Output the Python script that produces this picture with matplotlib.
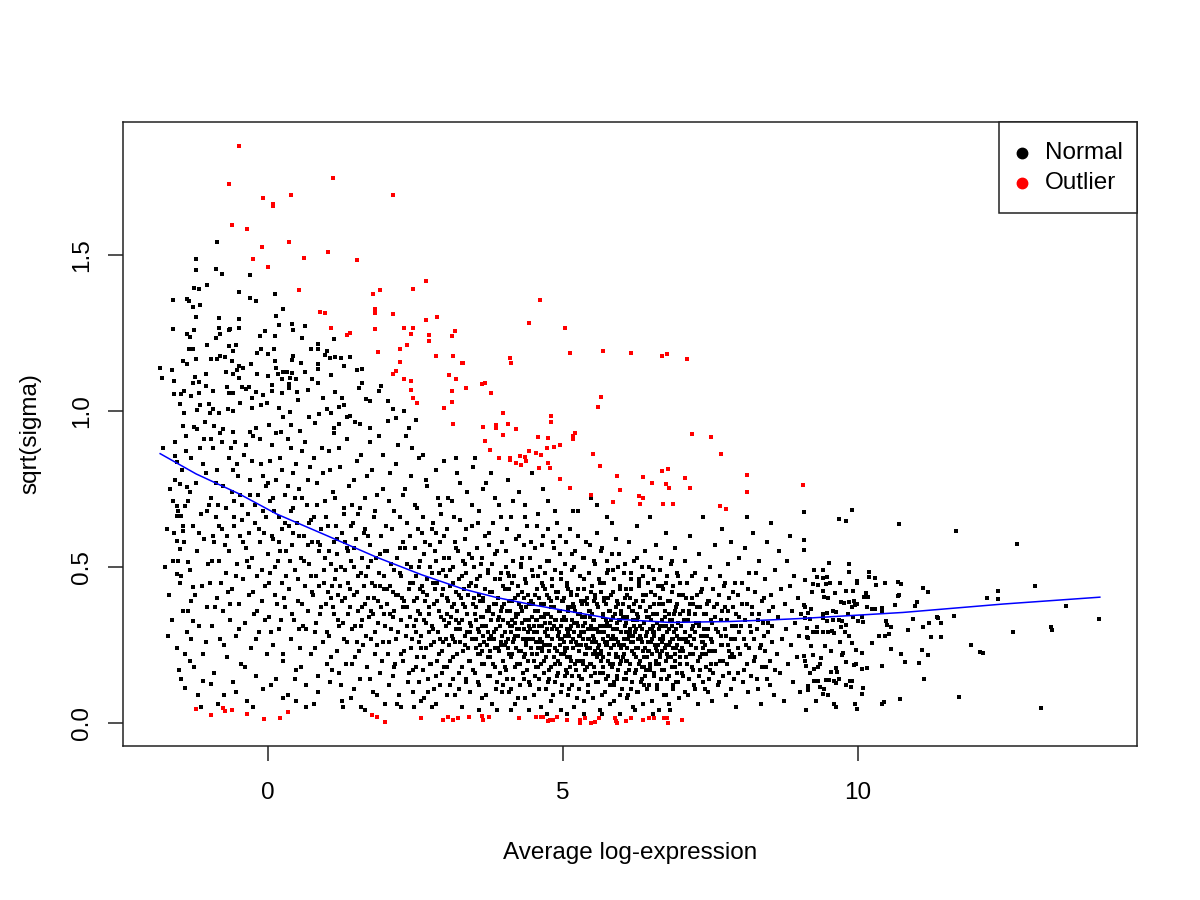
import matplotlib
matplotlib.use("Agg")
import matplotlib.pyplot as plt
from matplotlib.lines import Line2D
from matplotlib.patches import Rectangle

plt.rcParams['font.family'] = ['Liberation Sans', 'DejaVu Sans']

# sparse points, upper left
normal_top_left = [
    (-0.86, 1.542), (-1.215, 1.488), (-1.23, 1.451), (-0.88, 1.454), (-0.79, 1.440), (-0.31, 1.437),
    (-1.25, 1.394), (-1.17, 1.390), (-1.03, 1.402), (-0.49, 1.380), (0.12, 1.376), (-0.30, 1.363),
    (-0.20, 1.351), (-1.62, 1.357), (-1.38, 1.358), (-1.34, 1.353), (-1.28, 1.332), (-1.16, 1.338),
    (-1.22, 1.300), (-0.83, 1.297), (-0.49, 1.294), (0.14, 1.303), (0.26, 1.326), (0.18, 1.274),
    (0.41, 1.279), (0.43, 1.258), (0.63, 1.271), (-1.62, 1.262), (-1.25, 1.259), (-1.37, 1.248),
    (-1.33, 1.236), (-0.83, 1.266), (-0.81, 1.245), (-0.88, 1.234), (-0.65, 1.263), (-0.67, 1.258),
    (-0.50, 1.265), (-0.06, 1.255), (-0.13, 1.239), (0.12, 1.239), (0.58, 1.233), (1.12, 1.230),
    (-1.03, 1.212), (-0.67, 1.207), (-0.54, 1.211), (-0.59, 1.193), (-1.34, 1.198), (-1.27, 1.197),
    (-0.12, 1.199), (-0.18, 1.187), (-0.01, 1.182), (0.10, 1.198), (0.73, 1.199), (0.84, 1.199),
    (0.84, 1.214), (0.99, 1.191), (0.96, 1.178), (1.05, 1.169), (1.13, 1.172), (1.23, 1.169),
    (1.39, 1.172), (0.43, 1.175), (0.41, 1.163), (-0.96, 1.166), (-0.81, 1.175), (-0.73, 1.173),
    (-0.86, 1.167), (-1.45, 1.161), (-1.37, 1.149), (-1.215, 1.165), (-0.62, 1.160), (-0.50, 1.143),
    (-0.42, 1.139), (-0.53, 1.130), (-0.29, 1.149), (0.12, 1.159), (0.13, 1.139), (0.25, 1.125),
    (0.32, 1.125), (0.40, 1.122), (0.56, 1.154), (0.63, 1.124), (0.84, 1.149), (0.85, 1.134),
    (-1.83, 1.138), (-1.80, 1.104), (-1.63, 1.130), (-1.59, 1.097), (-1.24, 1.108), (-1.18, 1.093),
    (-1.27, 1.091), (-1.05, 1.117), (-0.71, 1.126), (-0.59, 1.119), (-0.50, 1.107), (-0.18, 1.119),
    (-0.01, 1.112), (0.16, 1.117), (0.23, 1.103), (0.37, 1.105), (0.48, 1.101), (0.36, 1.085),
    (0.75, 1.103), (0.84, 1.091), (1.07, 1.114), (1.29, 1.145), (1.50, 1.130), (1.59, 1.135),
    (1.60, 1.089), (1.54, 1.074), (1.66, 1.037), (1.72, 1.033), (1.88, 1.063), (1.92, 1.081),
    (2.03, 1.033), (-1.59, 1.055), (-1.43, 1.065), (-1.42, 0.994), (-1.48, 1.053), (-1.31, 1.048),
    (-1.05, 1.080), (-1.18, 1.057), (-1.00, 1.022), (-0.93, 1.063), (-0.69, 1.077), (-0.67, 1.058),
    (-0.59, 1.058), (-0.45, 1.076), (-0.38, 1.071), (-0.32, 1.077), (-0.27, 1.041), (-0.20, 1.061),
    (-0.09, 1.052), (0.07, 1.082), (0.06, 1.065), (0.24, 1.058), (0.36, 1.074), (0.49, 1.061),
    (0.51, 1.034), (0.68, 1.066), (0.93, 1.041), (1.13, 1.060), (1.26, 1.040), (1.28, 1.020),
    (-1.49, 1.022), (-1.21, 1.004), (-1.16, 1.018), (-0.99, 0.994), (-0.93, 1.005), (-0.83, 0.993),
    (-0.68, 1.005), (-0.59, 0.999), (-0.47, 1.025), (-0.28, 1.010), (-0.12, 1.020), (-0.02, 1.026),
    (0.19, 1.010), (0.25, 0.981), (0.37, 0.997), (0.69, 0.981), (0.87, 0.991), (0.99, 1.005),
    (1.06, 0.994), (1.21, 1.014), (1.33, 0.981), (1.39, 0.984), (1.47, 0.964), (1.56, 0.959),
    (1.73, 0.946), (2.04, 0.969), (2.11, 1.005), (2.16, 0.978), (2.30, 0.999), (2.39, 0.946),
    (2.51, 0.971), (-1.45, 0.952), (-1.21, 0.943), (-1.07, 0.964), (-0.92, 0.952), (-0.76, 0.943),
    (-0.59, 0.932), (-0.31, 0.932), (-0.20, 0.945), (0.01, 0.954), (0.22, 0.932), (0.39, 0.954),
    (0.54, 0.935), (0.80, 0.962), (1.11, 0.945), (1.20, 0.959),
]

# left edge of the cloud
normal_left_edge = [
    (-1.79, 0.881), (-1.58, 0.857), (-1.55, 0.835), (-1.58, 0.779), (-1.50, 0.766), (-1.38, 0.755),
    (-1.61, 0.712), (-1.55, 0.696), (-1.41, 0.696), (-1.55, 0.664), (-1.47, 0.664), (-1.44, 0.616),
    (-1.55, 0.584), (-1.50, 0.557), (-1.53, 0.520), (-1.36, 0.515), (-1.55, 0.477), (-1.47, 0.472),
    (-1.27, 0.435), (-1.30, 0.392), (-1.36, 0.360), (-1.27, 0.328), (-1.30, 0.269), (-1.41, 0.221),
    (-1.33, 0.200), (-1.51, 0.171), (-1.41, 0.111), (-1.13, 0.050), (-1.10, 0.135), (-0.96, 0.125),
    (-1.72, 0.62), (-1.68, 0.41), (-1.66, 0.75), (-1.63, 0.33), (-1.61, 0.52), (-1.57, 0.90),
    (-1.54, 0.24), (-1.52, 0.68), (-1.49, 0.45), (-1.46, 0.81), (-1.44, 0.36), (-1.42, 0.58),
    (-1.39, 0.92), (-1.37, 0.29), (-1.35, 0.71), (-1.33, 0.49), (-1.30, 0.85), (-1.28, 0.63),
    (-1.26, 0.18), (-1.24, 0.41), (-1.22, 0.77), (-1.20, 0.55), (-1.18, 0.31), (-1.16, 0.88),
    (-1.14, 0.67), (-1.12, 0.44), (-1.10, 0.22), (-1.08, 0.59), (-1.06, 0.80), (-1.04, 0.37),
    (-1.02, 0.51), (-1.01, 0.70), (-1.75, 0.50), (-1.70, 0.28), (-1.59, 0.61), (-1.48, 0.14),
    (-1.31, 0.39), (-1.19, 0.09), (-1.09, 0.91), (-1.05, 0.26),
]

normal_m1_0 = [
    (-0.98, 0.45), (-0.97, 0.72), (-0.95, 0.31), (-0.94, 0.88), (-0.92, 0.58), (-0.91, 0.16),
    (-0.89, 0.66), (-0.87, 0.40), (-0.86, 0.81), (-0.84, 0.52), (-0.82, 0.27), (-0.81, 0.93),
    (-0.79, 0.62), (-0.77, 0.36), (-0.76, 0.76), (-0.74, 0.09), (-0.72, 0.48), (-0.71, 0.69),
    (-0.69, 0.21), (-0.67, 0.85), (-0.66, 0.55), (-0.64, 0.33), (-0.62, 0.74), (-0.61, 0.43),
    (-0.59, 0.13), (-0.57, 0.63), (-0.56, 0.90), (-0.54, 0.28), (-0.52, 0.51), (-0.51, 0.79),
    (-0.49, 0.38), (-0.47, 0.60), (-0.46, 0.19), (-0.44, 0.70), (-0.42, 0.46), (-0.41, 0.86),
    (-0.39, 0.32), (-0.37, 0.56), (-0.36, 0.07), (-0.34, 0.67), (-0.32, 0.41), (-0.31, 0.78),
    (-0.29, 0.24), (-0.27, 0.53), (-0.26, 0.92), (-0.24, 0.35), (-0.22, 0.64), (-0.21, 0.15),
    (-0.19, 0.47), (-0.17, 0.73), (-0.16, 0.29), (-0.14, 0.58), (-0.12, 0.83), (-0.11, 0.39),
    (-0.09, 0.11), (-0.07, 0.61), (-0.06, 0.44), (-0.04, 0.76), (-0.02, 0.22), (-0.01, 0.54),
    (-0.93, 0.60), (-0.68, 0.42), (-0.43, 0.58), (-0.18, 0.36), (-0.58, 0.71), (-0.33, 0.50),
    (-0.08, 0.68),
]

normal_0_1 = [
    (0.01, 0.34), (0.03, 0.71), (0.04, 0.48), (0.06, 0.89), (0.08, 0.25), (0.09, 0.59),
    (0.11, 0.41), (0.13, 0.78), (0.14, 0.14), (0.16, 0.52), (0.18, 0.66), (0.19, 0.30),
    (0.21, 0.85), (0.23, 0.45), (0.24, 0.62), (0.26, 0.20), (0.28, 0.73), (0.29, 0.37),
    (0.31, 0.55), (0.33, 0.09), (0.34, 0.91), (0.36, 0.43), (0.38, 0.68), (0.39, 0.27),
    (0.41, 0.57), (0.43, 0.80), (0.44, 0.33), (0.46, 0.49), (0.48, 0.17), (0.49, 0.64),
    (0.51, 0.39), (0.53, 0.75), (0.54, 0.24), (0.56, 0.53), (0.58, 0.87), (0.59, 0.31),
    (0.61, 0.60), (0.63, 0.44), (0.64, 0.12), (0.66, 0.70), (0.68, 0.36), (0.69, 0.51),
    (0.71, 0.82), (0.73, 0.22), (0.74, 0.58), (0.76, 0.41), (0.78, 0.66), (0.79, 0.29),
    (0.81, 0.47), (0.83, 0.77), (0.84, 0.15), (0.86, 0.55), (0.88, 0.35), (0.89, 0.62),
    (0.91, 0.88), (0.93, 0.26), (0.94, 0.45), (0.96, 0.71), (0.98, 0.38), (0.99, 0.19),
    (0.12, 0.50), (0.27, 0.40), (0.42, 0.61), (0.57, 0.38), (0.72, 0.47), (0.87, 0.44),
    (0.07, 0.60), (0.22, 0.33), (0.37, 0.52), (0.52, 0.30), (0.67, 0.57), (0.82, 0.32),
    (0.97, 0.53), (0.47, 0.07), (0.77, 0.06),
]

normal_1_2 = [
    (1.01, 0.42), (1.02, 0.63), (1.04, 0.28), (1.05, 0.81), (1.07, 0.51), (1.08, 0.17),
    (1.10, 0.37), (1.11, 0.58), (1.13, 0.46), (1.14, 0.72), (1.16, 0.23), (1.17, 0.54),
    (1.19, 0.33), (1.20, 0.88), (1.22, 0.44), (1.23, 0.12), (1.25, 0.61), (1.26, 0.39),
    (1.28, 0.27), (1.29, 0.67), (1.31, 0.49), (1.32, 0.19), (1.34, 0.56), (1.35, 0.35),
    (1.37, 0.76), (1.38, 0.43), (1.40, 0.08), (1.41, 0.52), (1.43, 0.30), (1.44, 0.64),
    (1.46, 0.41), (1.47, 0.21), (1.49, 0.59), (1.50, 0.84), (1.52, 0.36), (1.53, 0.47),
    (1.55, 0.14), (1.56, 0.69), (1.58, 0.31), (1.59, 0.53), (1.61, 0.25), (1.62, 0.44),
    (1.64, 0.62), (1.65, 0.38), (1.67, 0.79), (1.68, 0.18), (1.70, 0.50), (1.71, 0.34),
    (1.73, 0.57), (1.74, 0.27), (1.76, 0.45), (1.77, 0.10), (1.79, 0.66), (1.80, 0.40),
    (1.82, 0.22), (1.83, 0.53), (1.85, 0.73), (1.86, 0.32), (1.88, 0.48), (1.89, 0.16),
    (1.91, 0.60), (1.92, 0.37), (1.94, 0.86), (1.95, 0.26), (1.97, 0.43), (1.98, 0.55),
    (1.99, 0.06), (1.06, 0.40), (1.21, 0.31), (1.36, 0.55), (1.51, 0.26), (1.66, 0.47),
    (1.81, 0.29), (1.96, 0.35), (1.15, 0.49), (1.30, 0.40), (1.45, 0.50), (1.60, 0.37),
    (1.75, 0.36), (1.90, 0.44), (1.27, 0.05), (1.57, 0.05), (1.12, 0.93), (1.42, 0.70),
    (1.72, 0.90),
]

normal_2_3 = [
    (2.01, 0.38), (2.02, 0.55), (2.04, 0.22), (2.05, 0.71), (2.07, 0.44), (2.08, 0.30),
    (2.10, 0.62), (2.11, 0.15), (2.13, 0.49), (2.14, 0.36), (2.16, 0.83), (2.17, 0.27),
    (2.19, 0.53), (2.20, 0.41), (2.22, 0.09), (2.23, 0.66), (2.25, 0.33), (2.26, 0.47),
    (2.28, 0.20), (2.29, 0.58), (2.31, 0.39), (2.32, 0.75), (2.34, 0.28), (2.35, 0.51),
    (2.37, 0.13), (2.38, 0.43), (2.40, 0.60), (2.41, 0.34), (2.43, 0.24), (2.44, 0.88),
    (2.46, 0.45), (2.47, 0.31), (2.49, 0.56), (2.50, 0.18), (2.52, 0.40), (2.53, 0.69),
    (2.55, 0.26), (2.56, 0.50), (2.58, 0.35), (2.59, 0.07), (2.61, 0.61), (2.62, 0.42),
    (2.64, 0.21), (2.65, 0.54), (2.67, 0.32), (2.68, 0.78), (2.70, 0.46), (2.71, 0.14),
    (2.73, 0.37), (2.74, 0.57), (2.76, 0.25), (2.77, 0.48), (2.79, 0.64), (2.80, 0.30),
    (2.82, 0.11), (2.83, 0.43), (2.85, 0.52), (2.86, 0.20), (2.88, 0.72), (2.89, 0.36),
    (2.91, 0.27), (2.92, 0.58), (2.94, 0.41), (2.95, 0.16), (2.97, 0.49), (2.98, 0.33),
    (2.99, 0.84), (2.06, 0.35), (2.21, 0.29), (2.36, 0.37), (2.51, 0.29), (2.66, 0.39),
    (2.81, 0.38), (2.96, 0.26), (2.12, 0.42), (2.27, 0.40), (2.42, 0.50), (2.57, 0.43),
    (2.72, 0.29), (2.87, 0.45), (2.15, 0.19), (2.30, 0.23), (2.45, 0.17), (2.60, 0.24),
    (2.75, 0.19), (2.90, 0.22), (2.18, 0.06), (2.48, 0.05), (2.78, 0.05), (2.33, 0.92),
    (2.63, 0.86), (2.93, 0.67), (2.24, 0.56), (2.54, 0.62), (2.84, 0.61),
]

normal_3_4 = [
    (3.01, 0.31), (3.02, 0.47), (3.03, 0.18), (3.04, 0.62), (3.05, 0.39), (3.06, 0.25),
    (3.07, 0.53), (3.08, 0.12), (3.09, 0.44), (3.10, 0.34), (3.11, 0.71), (3.12, 0.28),
    (3.13, 0.50), (3.14, 0.21), (3.15, 0.38), (3.16, 0.58), (3.17, 0.09), (3.18, 0.42),
    (3.19, 0.30), (3.20, 0.80), (3.21, 0.36), (3.22, 0.55), (3.23, 0.16), (3.24, 0.46),
    (3.25, 0.26), (3.26, 0.65), (3.27, 0.40), (3.28, 0.33), (3.29, 0.05), (3.30, 0.52),
    (3.31, 0.23), (3.32, 0.43), (3.33, 0.37), (3.34, 0.59), (3.35, 0.14), (3.36, 0.48),
    (3.37, 0.29), (3.38, 0.74), (3.39, 0.41), (3.40, 0.20), (3.41, 0.54), (3.42, 0.32),
    (3.43, 0.10), (3.44, 0.45), (3.45, 0.63), (3.46, 0.27), (3.47, 0.38), (3.48, 0.17),
    (3.49, 0.50), (3.50, 0.35), (3.51, 0.85), (3.52, 0.24), (3.53, 0.44), (3.54, 0.56),
    (3.55, 0.30), (3.56, 0.13), (3.57, 0.41), (3.58, 0.68), (3.59, 0.22), (3.60, 0.47),
    (3.61, 0.34), (3.62, 0.08), (3.63, 0.53), (3.64, 0.28), (3.65, 0.39), (3.66, 0.19),
    (3.67, 0.60), (3.68, 0.43), (3.69, 0.31), (3.70, 0.77), (3.71, 0.25), (3.72, 0.49),
    (3.73, 0.15), (3.74, 0.36), (3.75, 0.57), (3.76, 0.21), (3.77, 0.42), (3.78, 0.33),
    (3.79, 0.06), (3.80, 0.51), (3.81, 0.27), (3.82, 0.64), (3.83, 0.38), (3.84, 0.18),
    (3.85, 0.46), (3.86, 0.30), (3.87, 0.11), (3.88, 0.55), (3.89, 0.24), (3.90, 0.40),
    (3.91, 0.70), (3.92, 0.34), (3.93, 0.16), (3.94, 0.48), (3.95, 0.26), (3.96, 0.58),
    (3.97, 0.37), (3.98, 0.12), (3.99, 0.44), (3.03, 0.35), (3.13, 0.27), (3.23, 0.32),
    (3.33, 0.25), (3.43, 0.29), (3.53, 0.37), (3.63, 0.23), (3.73, 0.29), (3.83, 0.27),
    (3.93, 0.31), (3.18, 0.85), (3.48, 0.82), (3.78, 0.80), (3.58, 0.04), (3.88, 0.04),
]

normal_4_5 = [
    (4.01, 0.29), (4.02, 0.43), (4.03, 0.17), (4.04, 0.55), (4.05, 0.36), (4.06, 0.24),
    (4.07, 0.48), (4.08, 0.10), (4.09, 0.39), (4.10, 0.31), (4.11, 0.66), (4.12, 0.21),
    (4.13, 0.45), (4.14, 0.33), (4.15, 0.14), (4.16, 0.52), (4.17, 0.27), (4.18, 0.40),
    (4.19, 0.06), (4.20, 0.59), (4.21, 0.35), (4.22, 0.19), (4.23, 0.44), (4.24, 0.28),
    (4.25, 0.74), (4.26, 0.38), (4.27, 0.12), (4.28, 0.50), (4.29, 0.23), (4.30, 0.32),
    (4.31, 0.42), (4.32, 0.16), (4.33, 0.57), (4.34, 0.30), (4.35, 0.08), (4.36, 0.46),
    (4.37, 0.25), (4.38, 0.37), (4.39, 0.63), (4.40, 0.20), (4.41, 0.41), (4.42, 0.33),
    (4.43, 0.13), (4.44, 0.53), (4.45, 0.27), (4.46, 0.39), (4.47, 0.80), (4.48, 0.22),
    (4.49, 0.47), (4.50, 0.31), (4.51, 0.09), (4.52, 0.36), (4.53, 0.56), (4.54, 0.18),
    (4.55, 0.43), (4.56, 0.29), (4.57, 0.67), (4.58, 0.24), (4.59, 0.40), (4.60, 0.14),
    (4.61, 0.50), (4.62, 0.34), (4.63, 0.05), (4.64, 0.45), (4.65, 0.26), (4.66, 0.60),
    (4.67, 0.38), (4.68, 0.20), (4.69, 0.32), (4.70, 0.48), (4.71, 0.11), (4.72, 0.41),
    (4.73, 0.28), (4.74, 0.71), (4.75, 0.35), (4.76, 0.17), (4.77, 0.52), (4.78, 0.25),
    (4.79, 0.39), (4.80, 0.07), (4.81, 0.44), (4.82, 0.30), (4.83, 0.58), (4.84, 0.21),
    (4.85, 0.37), (4.86, 0.13), (4.87, 0.49), (4.88, 0.33), (4.89, 0.23), (4.90, 0.64),
    (4.91, 0.42), (4.92, 0.16), (4.93, 0.29), (4.94, 0.54), (4.95, 0.36), (4.96, 0.10),
    (4.97, 0.46), (4.98, 0.27), (4.99, 0.39), (4.04, 0.26), (4.14, 0.22), (4.24, 0.35),
    (4.34, 0.21), (4.44, 0.30), (4.54, 0.33), (4.64, 0.24), (4.74, 0.28), (4.84, 0.31),
    (4.94, 0.19), (4.09, 0.47), (4.29, 0.51), (4.49, 0.38), (4.69, 0.43), (4.89, 0.40),
    (4.19, 0.32), (4.39, 0.27), (4.59, 0.26), (4.79, 0.34), (4.99, 0.22), (4.06, 0.78),
    (4.36, 0.70), (4.66, 0.75), (4.86, 0.68), (4.12, 0.04), (4.42, 0.04), (4.72, 0.03),
    (4.96, 0.04),
]

normal_5_6 = [
    (5.01, 0.26), (5.02, 0.40), (5.03, 0.15), (5.04, 0.51), (5.05, 0.33), (5.06, 0.21),
    (5.07, 0.45), (5.08, 0.09), (5.09, 0.36), (5.10, 0.28), (5.11, 0.62), (5.12, 0.18),
    (5.13, 0.42), (5.14, 0.31), (5.15, 0.12), (5.16, 0.49), (5.17, 0.24), (5.18, 0.37),
    (5.19, 0.05), (5.20, 0.55), (5.21, 0.32), (5.22, 0.17), (5.23, 0.41), (5.24, 0.25),
    (5.25, 0.68), (5.26, 0.35), (5.27, 0.11), (5.28, 0.47), (5.29, 0.20), (5.30, 0.29),
    (5.31, 0.39), (5.32, 0.14), (5.33, 0.53), (5.34, 0.27), (5.35, 0.07), (5.36, 0.43),
    (5.37, 0.22), (5.38, 0.34), (5.39, 0.58), (5.40, 0.18), (5.41, 0.38), (5.42, 0.30),
    (5.43, 0.12), (5.44, 0.48), (5.45, 0.24), (5.46, 0.36), (5.47, 0.72), (5.48, 0.19),
    (5.49, 0.44), (5.50, 0.28), (5.51, 0.08), (5.52, 0.33), (5.53, 0.52), (5.54, 0.16),
    (5.55, 0.40), (5.56, 0.26), (5.57, 0.61), (5.58, 0.21), (5.59, 0.37), (5.60, 0.13),
    (5.61, 0.46), (5.62, 0.31), (5.63, 0.04), (5.64, 0.42), (5.65, 0.23), (5.66, 0.56),
    (5.67, 0.35), (5.68, 0.18), (5.69, 0.29), (5.70, 0.45), (5.71, 0.10), (5.72, 0.38),
    (5.73, 0.25), (5.74, 0.66), (5.75, 0.32), (5.76, 0.15), (5.77, 0.49), (5.78, 0.22),
    (5.79, 0.36), (5.80, 0.06), (5.81, 0.41), (5.82, 0.27), (5.83, 0.54), (5.84, 0.19),
    (5.85, 0.34), (5.86, 0.12), (5.87, 0.46), (5.88, 0.30), (5.89, 0.21), (5.90, 0.59),
    (5.91, 0.39), (5.92, 0.14), (5.93, 0.26), (5.94, 0.50), (5.95, 0.33), (5.96, 0.09),
    (5.97, 0.43), (5.98, 0.24), (5.99, 0.36), (5.04, 0.23), (5.14, 0.20), (5.24, 0.32),
    (5.34, 0.19), (5.44, 0.27), (5.54, 0.30), (5.64, 0.22), (5.74, 0.26), (5.84, 0.28),
    (5.94, 0.17), (5.09, 0.43), (5.29, 0.47), (5.49, 0.35), (5.69, 0.40), (5.89, 0.37),
    (5.19, 0.29), (5.39, 0.25), (5.59, 0.24), (5.79, 0.31), (5.99, 0.20), (5.07, 0.30),
    (5.27, 0.28), (5.47, 0.31), (5.67, 0.27), (5.87, 0.25), (5.12, 0.37), (5.32, 0.34),
    (5.52, 0.39), (5.72, 0.33), (5.92, 0.32), (5.17, 0.68), (5.57, 0.70), (5.83, 0.64),
    (5.06, 0.03), (5.36, 0.03), (5.66, 0.03), (5.96, 0.03),
]

normal_6_7 = [
    (6.01, 0.25), (6.02, 0.38), (6.03, 0.14), (6.04, 0.48), (6.05, 0.31), (6.06, 0.20),
    (6.07, 0.43), (6.08, 0.08), (6.09, 0.34), (6.10, 0.27), (6.11, 0.58), (6.12, 0.17),
    (6.13, 0.40), (6.14, 0.29), (6.15, 0.11), (6.16, 0.46), (6.17, 0.23), (6.18, 0.36),
    (6.19, 0.05), (6.20, 0.52), (6.21, 0.31), (6.22, 0.16), (6.23, 0.39), (6.24, 0.24),
    (6.25, 0.63), (6.26, 0.33), (6.27, 0.10), (6.28, 0.44), (6.29, 0.19), (6.30, 0.28),
    (6.31, 0.37), (6.32, 0.13), (6.33, 0.50), (6.34, 0.26), (6.35, 0.06), (6.36, 0.41),
    (6.37, 0.21), (6.38, 0.32), (6.39, 0.55), (6.40, 0.17), (6.41, 0.36), (6.42, 0.29),
    (6.43, 0.11), (6.44, 0.45), (6.45, 0.23), (6.46, 0.34), (6.47, 0.66), (6.48, 0.18),
    (6.49, 0.42), (6.50, 0.27), (6.51, 0.07), (6.52, 0.31), (6.53, 0.49), (6.54, 0.15),
    (6.55, 0.38), (6.56, 0.25), (6.57, 0.57), (6.58, 0.20), (6.59, 0.35), (6.60, 0.12),
    (6.61, 0.44), (6.62, 0.30), (6.63, 0.04), (6.64, 0.40), (6.65, 0.22), (6.66, 0.53),
    (6.67, 0.33), (6.68, 0.17), (6.69, 0.28), (6.70, 0.43), (6.71, 0.09), (6.72, 0.36),
    (6.73, 0.24), (6.74, 0.61), (6.75, 0.31), (6.76, 0.14), (6.77, 0.47), (6.78, 0.21),
    (6.79, 0.35), (6.80, 0.06), (6.81, 0.39), (6.82, 0.26), (6.83, 0.51), (6.84, 0.18),
    (6.85, 0.33), (6.86, 0.11), (6.87, 0.44), (6.88, 0.29), (6.89, 0.20), (6.90, 0.56),
    (6.91, 0.37), (6.92, 0.13), (6.93, 0.25), (6.94, 0.48), (6.95, 0.32), (6.96, 0.08),
    (6.97, 0.41), (6.98, 0.23), (6.99, 0.35), (6.04, 0.22), (6.14, 0.19), (6.24, 0.30),
    (6.34, 0.18), (6.44, 0.26), (6.54, 0.29), (6.64, 0.21), (6.74, 0.25), (6.84, 0.27),
    (6.94, 0.16), (6.09, 0.41), (6.29, 0.45), (6.49, 0.33), (6.69, 0.38), (6.89, 0.36),
    (6.19, 0.28), (6.39, 0.24), (6.59, 0.23), (6.79, 0.30), (6.99, 0.19), (6.07, 0.29),
    (6.27, 0.27), (6.47, 0.30), (6.67, 0.26), (6.87, 0.24), (6.22, 0.04), (6.52, 0.03),
    (6.82, 0.04),
]

normal_7_9 = [
    (7.01, 0.27), (7.03, 0.41), (7.04, 0.15), (7.06, 0.52), (7.07, 0.33), (7.09, 0.21),
    (7.10, 0.45), (7.12, 0.09), (7.13, 0.36), (7.15, 0.28), (7.16, 0.60), (7.18, 0.18),
    (7.19, 0.40), (7.21, 0.31), (7.22, 0.12), (7.24, 0.48), (7.25, 0.24), (7.27, 0.37),
    (7.28, 0.06), (7.30, 0.54), (7.31, 0.32), (7.33, 0.17), (7.34, 0.42), (7.36, 0.26),
    (7.37, 0.66), (7.39, 0.35), (7.40, 0.11), (7.42, 0.46), (7.43, 0.22), (7.45, 0.30),
    (7.46, 0.39), (7.48, 0.14), (7.49, 0.50), (7.51, 0.27), (7.52, 0.07), (7.54, 0.43),
    (7.55, 0.23), (7.57, 0.34), (7.58, 0.57), (7.60, 0.19), (7.61, 0.38), (7.63, 0.29),
    (7.64, 0.13), (7.66, 0.47), (7.67, 0.25), (7.69, 0.36), (7.70, 0.62), (7.72, 0.20),
    (7.73, 0.44), (7.75, 0.30), (7.76, 0.09), (7.78, 0.33), (7.79, 0.51), (7.81, 0.16),
    (7.82, 0.40), (7.84, 0.27), (7.85, 0.58), (7.87, 0.22), (7.88, 0.37), (7.90, 0.14),
    (7.91, 0.45), (7.93, 0.31), (7.94, 0.05), (7.96, 0.41), (7.97, 0.24), (7.99, 0.53),
    (7.08, 0.26), (7.23, 0.29), (7.38, 0.24), (7.53, 0.32), (7.68, 0.28), (7.83, 0.21),
    (7.98, 0.34), (7.14, 0.35), (7.44, 0.38), (7.74, 0.37), (7.20, 0.22), (7.50, 0.19),
    (7.80, 0.25),
    (8.02, 0.31), (8.04, 0.45), (8.06, 0.17), (8.08, 0.56), (8.10, 0.25), (8.12, 0.38),
    (8.14, 0.10), (8.16, 0.48), (8.18, 0.29), (8.20, 0.35), (8.22, 0.61), (8.24, 0.20),
    (8.26, 0.42), (8.28, 0.14), (8.30, 0.33), (8.32, 0.52), (8.34, 0.24), (8.36, 0.06),
    (8.38, 0.39), (8.40, 0.28), (8.42, 0.46), (8.44, 0.18), (8.46, 0.58), (8.48, 0.32),
    (8.50, 0.12), (8.52, 0.41), (8.54, 0.26), (8.56, 0.37), (8.58, 0.09), (8.60, 0.49),
    (8.62, 0.22), (8.64, 0.34), (8.66, 0.55), (8.68, 0.16), (8.70, 0.43), (8.72, 0.27),
    (8.74, 0.07), (8.76, 0.38), (8.78, 0.30), (8.80, 0.52), (8.82, 0.19), (8.84, 0.44),
    (8.86, 0.25), (8.88, 0.36), (8.90, 0.13), (8.92, 0.47), (8.94, 0.32), (8.96, 0.21),
    (8.98, 0.40), (9.00, 0.28), (9.02, 0.10), (9.04, 0.35), (8.11, 0.66), (8.53, 0.64),
    (8.85, 0.60),
]

# extra points where the cloud is densest
normal_dense_a = [
    (-0.95, 0.52), (-0.90, 0.37), (-0.85, 0.70), (-0.80, 0.45), (-0.75, 0.25), (-0.70, 0.60),
    (-0.65, 0.38), (-0.60, 0.81), (-0.55, 0.47), (-0.50, 0.30), (-0.45, 0.65), (-0.40, 0.18),
    (-0.35, 0.52), (-0.30, 0.73), (-0.25, 0.42), (-0.20, 0.27), (-0.15, 0.62), (-0.10, 0.49),
    (-0.05, 0.33), (0.00, 0.77), (0.02, 0.45), (0.05, 0.29), (0.10, 0.68), (0.15, 0.38),
    (0.20, 0.55), (0.25, 0.22), (0.30, 0.47), (0.35, 0.63), (0.40, 0.35), (0.45, 0.72),
    (0.50, 0.46), (0.55, 0.18), (0.60, 0.52), (0.65, 0.30), (0.70, 0.64), (0.75, 0.42),
    (0.80, 0.24), (0.85, 0.58), (0.90, 0.37), (0.95, 0.49), (1.00, 0.29), (1.03, 0.55),
    (1.06, 0.21), (1.09, 0.44), (1.12, 0.35), (1.15, 0.63), (1.18, 0.41), (1.21, 0.16),
    (1.24, 0.50), (1.27, 0.32), (1.30, 0.58), (1.33, 0.26), (1.36, 0.45), (1.39, 0.37),
    (1.42, 0.19), (1.45, 0.56), (1.48, 0.31), (1.51, 0.42), (1.54, 0.23), (1.57, 0.48),
    (1.60, 0.33), (1.63, 0.61), (1.66, 0.28), (1.69, 0.40), (1.72, 0.14), (1.75, 0.52),
    (1.78, 0.35), (1.81, 0.44), (1.84, 0.25), (1.87, 0.39), (1.90, 0.54), (1.93, 0.20),
    (1.96, 0.47), (1.99, 0.31), (2.02, 0.43), (2.05, 0.26), (2.08, 0.51), (2.11, 0.34),
    (2.14, 0.18), (2.17, 0.41), (2.20, 0.29), (2.23, 0.48), (2.26, 0.22), (2.29, 0.37),
    (2.32, 0.56), (2.35, 0.31), (2.38, 0.16), (2.41, 0.45), (2.44, 0.27), (2.47, 0.39),
    (2.50, 0.33),
]

normal_dense_b = [
    (2.51, 0.47), (2.53, 0.21), (2.54, 0.36), (2.56, 0.13), (2.58, 0.52), (2.59, 0.28),
    (2.61, 0.44), (2.63, 0.17), (2.64, 0.33), (2.66, 0.58), (2.68, 0.24), (2.69, 0.41),
    (2.71, 0.10), (2.73, 0.35), (2.74, 0.50), (2.76, 0.19), (2.78, 0.31), (2.79, 0.45),
    (2.81, 0.26), (2.83, 0.55), (2.84, 0.15), (2.86, 0.39), (2.88, 0.29), (2.89, 0.48),
    (2.91, 0.12), (2.93, 0.34), (2.94, 0.23), (2.96, 0.43), (2.98, 0.18), (2.99, 0.53),
    (3.01, 0.27), (3.03, 0.40), (3.04, 0.09), (3.06, 0.32), (3.08, 0.49), (3.09, 0.20),
    (3.11, 0.37), (3.13, 0.14), (3.14, 0.45), (3.16, 0.26), (3.18, 0.33), (3.19, 0.56),
    (3.21, 0.22), (3.23, 0.41), (3.24, 0.11), (3.26, 0.30), (3.28, 0.47), (3.29, 0.18),
    (3.31, 0.38), (3.33, 0.28), (3.34, 0.51), (3.36, 0.13), (3.38, 0.35), (3.39, 0.24),
    (3.41, 0.44), (3.43, 0.20), (3.44, 0.31), (3.46, 0.53), (3.48, 0.27), (3.49, 0.40),
    (3.51, 0.16), (3.52, 0.33), (3.54, 0.46), (3.55, 0.22), (3.57, 0.29), (3.58, 0.12),
    (3.60, 0.39), (3.61, 0.51), (3.63, 0.19), (3.64, 0.34), (3.66, 0.26), (3.67, 0.43),
    (3.69, 0.09), (3.70, 0.31), (3.72, 0.21), (3.73, 0.48), (3.75, 0.37), (3.76, 0.15),
    (3.78, 0.28), (3.79, 0.42), (3.81, 0.19), (3.82, 0.35), (3.84, 0.24), (3.85, 0.54),
    (3.87, 0.30), (3.88, 0.13), (3.90, 0.40), (3.91, 0.23), (3.93, 0.46), (3.94, 0.36),
    (3.96, 0.10), (3.97, 0.28), (3.99, 0.20), (4.00, 0.38), (4.02, 0.25), (4.03, 0.50),
    (4.05, 0.14), (4.06, 0.32), (4.08, 0.43), (4.09, 0.22), (4.11, 0.29), (4.12, 0.11),
    (4.14, 0.39), (4.15, 0.26), (4.17, 0.47), (4.18, 0.18), (4.20, 0.34), (4.21, 0.24),
    (4.23, 0.08), (4.24, 0.41), (4.26, 0.30), (4.27, 0.19), (4.29, 0.37), (4.30, 0.53),
    (4.32, 0.27), (4.33, 0.14), (4.35, 0.33), (4.36, 0.22), (4.38, 0.45), (4.39, 0.17),
    (4.41, 0.29), (4.42, 0.38), (4.44, 0.12), (4.45, 0.24), (4.47, 0.34), (4.48, 0.49),
    (4.50, 0.20), (3.53, 0.27), (3.59, 0.25), (3.65, 0.40), (3.71, 0.36), (3.77, 0.23),
    (3.83, 0.29), (3.89, 0.33), (3.95, 0.25), (4.01, 0.18), (4.07, 0.27), (4.13, 0.31),
    (4.19, 0.28), (4.25, 0.23), (4.31, 0.36), (4.37, 0.26), (4.43, 0.31), (4.49, 0.27),
    (3.62, 0.31), (3.74, 0.27), (3.86, 0.38), (3.98, 0.33), (4.10, 0.36), (4.22, 0.30),
    (4.34, 0.40),
]

normal_dense_c = [
    (4.51, 0.29), (4.52, 0.41), (4.53, 0.15), (4.55, 0.33), (4.56, 0.22), (4.57, 0.47),
    (4.58, 0.36), (4.60, 0.11), (4.61, 0.27), (4.62, 0.19), (4.63, 0.38), (4.65, 0.31),
    (4.66, 0.44), (4.67, 0.16), (4.68, 0.25), (4.70, 0.35), (4.71, 0.21), (4.72, 0.52),
    (4.73, 0.30), (4.75, 0.13), (4.76, 0.40), (4.77, 0.23), (4.78, 0.32), (4.80, 0.18),
    (4.81, 0.46), (4.82, 0.27), (4.83, 0.09), (4.85, 0.37), (4.86, 0.24), (4.87, 0.33),
    (4.88, 0.42), (4.90, 0.15), (4.91, 0.28), (4.92, 0.20), (4.93, 0.36), (4.95, 0.25),
    (4.96, 0.48), (4.97, 0.31), (4.98, 0.12), (5.00, 0.39), (5.01, 0.22), (5.02, 0.34),
    (5.03, 0.28), (5.05, 0.17), (5.06, 0.44), (5.07, 0.24), (5.08, 0.37), (5.10, 0.11),
    (5.11, 0.30), (5.12, 0.21), (5.13, 0.41), (5.15, 0.33), (5.16, 0.15), (5.17, 0.27),
    (5.18, 0.50), (5.20, 0.19), (5.21, 0.36), (5.22, 0.26), (5.23, 0.08), (5.25, 0.31),
    (5.26, 0.43), (5.27, 0.23), (5.28, 0.35), (5.30, 0.14), (5.31, 0.25), (5.32, 0.38),
    (5.33, 0.20), (5.35, 0.46), (5.36, 0.29), (5.37, 0.17), (5.38, 0.32), (5.40, 0.24),
    (5.41, 0.40), (5.42, 0.10), (5.43, 0.27), (5.45, 0.34), (5.46, 0.19), (5.47, 0.42),
    (5.48, 0.30), (5.50, 0.22), (4.54, 0.26), (4.59, 0.31), (4.64, 0.23), (4.69, 0.29),
    (4.74, 0.25), (4.79, 0.37), (4.84, 0.21), (4.89, 0.30), (4.94, 0.27), (4.99, 0.33),
    (5.04, 0.24), (5.09, 0.29), (5.14, 0.26), (5.19, 0.32), (5.24, 0.20), (5.29, 0.28),
    (5.34, 0.31), (5.39, 0.22), (5.44, 0.36), (5.49, 0.26), (4.57, 0.18), (4.67, 0.34),
    (4.77, 0.14), (4.87, 0.19), (4.97, 0.22), (5.07, 0.16), (5.17, 0.38), (5.27, 0.15),
    (5.37, 0.39), (5.47, 0.15),
    (5.51, 0.33), (5.52, 0.18), (5.53, 0.27), (5.55, 0.41), (5.56, 0.13), (5.57, 0.30),
    (5.58, 0.22), (5.60, 0.37), (5.61, 0.25), (5.62, 0.45), (5.63, 0.16), (5.65, 0.29),
    (5.66, 0.09), (5.67, 0.34), (5.68, 0.21), (5.70, 0.39), (5.71, 0.26), (5.72, 0.14),
    (5.73, 0.31), (5.75, 0.48), (5.76, 0.20), (5.77, 0.28), (5.78, 0.36), (5.80, 0.12),
    (5.81, 0.24), (5.82, 0.33), (5.83, 0.18), (5.85, 0.42), (5.86, 0.27), (5.87, 0.07),
    (5.88, 0.35), (5.90, 0.22), (5.91, 0.30), (5.92, 0.15), (5.93, 0.38), (5.95, 0.25),
    (5.96, 0.44), (5.97, 0.19), (5.98, 0.29), (6.00, 0.11), (6.01, 0.34), (6.02, 0.21),
    (6.03, 0.27), (6.05, 0.40), (6.06, 0.16), (6.07, 0.32), (6.08, 0.24), (6.10, 0.09),
    (6.11, 0.37), (6.12, 0.28), (6.13, 0.19), (6.15, 0.43), (6.16, 0.26), (6.17, 0.13),
    (6.18, 0.33), (6.20, 0.22), (6.21, 0.38), (6.22, 0.29), (6.23, 0.17), (6.25, 0.35),
    (6.26, 0.10), (6.27, 0.24), (6.28, 0.46), (6.30, 0.31), (6.31, 0.20), (6.32, 0.27),
    (6.33, 0.14), (6.35, 0.39), (6.36, 0.23), (6.37, 0.32), (6.38, 0.18), (6.40, 0.28),
    (6.41, 0.41), (6.42, 0.21), (6.43, 0.34), (6.45, 0.12), (6.46, 0.26), (6.47, 0.37),
    (6.48, 0.19), (6.50, 0.30), (5.54, 0.23), (5.59, 0.29), (5.64, 0.20), (5.69, 0.31),
    (5.74, 0.25), (5.79, 0.19), (5.84, 0.30), (5.89, 0.27), (5.94, 0.21), (5.99, 0.35),
    (6.04, 0.25), (6.09, 0.20), (6.14, 0.30), (6.19, 0.26), (6.24, 0.21), (6.29, 0.27),
    (6.34, 0.30), (6.39, 0.15), (6.44, 0.23), (6.49, 0.26), (5.57, 0.38), (5.67, 0.16),
    (5.77, 0.40), (5.87, 0.13), (5.97, 0.33), (6.07, 0.14), (6.17, 0.36), (6.27, 0.34),
    (6.37, 0.12), (6.47, 0.17),
]

normal_dense_d = [
    (6.51, 0.22), (6.52, 0.35), (6.54, 0.16), (6.55, 0.28), (6.56, 0.41), (6.58, 0.24),
    (6.59, 0.11), (6.60, 0.32), (6.62, 0.19), (6.63, 0.38), (6.64, 0.27), (6.66, 0.14),
    (6.67, 0.44), (6.68, 0.23), (6.70, 0.31), (6.71, 0.17), (6.72, 0.36), (6.74, 0.20),
    (6.75, 0.09), (6.76, 0.29), (6.78, 0.39), (6.79, 0.25), (6.80, 0.15), (6.82, 0.33),
    (6.83, 0.21), (6.84, 0.42), (6.86, 0.27), (6.87, 0.12), (6.88, 0.35), (6.90, 0.18),
    (6.91, 0.30), (6.92, 0.24), (6.94, 0.38), (6.95, 0.13), (6.96, 0.27), (6.98, 0.21),
    (6.99, 0.45), (7.00, 0.31), (7.02, 0.16), (7.03, 0.36), (7.04, 0.23), (7.06, 0.10),
    (7.07, 0.29), (7.08, 0.40), (7.10, 0.19), (7.11, 0.33), (7.12, 0.26), (7.14, 0.14),
    (7.15, 0.38), (7.16, 0.22), (7.18, 0.30), (7.19, 0.47), (7.20, 0.17), (7.22, 0.27),
    (7.23, 0.35), (7.24, 0.11), (7.26, 0.24), (7.27, 0.41), (7.28, 0.20), (7.30, 0.31),
    (7.31, 0.15), (7.32, 0.37), (7.34, 0.28), (7.35, 0.22), (7.36, 0.43), (7.38, 0.13),
    (7.39, 0.30), (7.40, 0.25), (7.42, 0.35), (7.43, 0.18), (7.44, 0.28), (7.46, 0.10),
    (7.47, 0.39), (7.48, 0.23), (7.50, 0.33), (6.53, 0.29), (6.61, 0.25), (6.69, 0.27),
    (6.77, 0.22), (6.85, 0.31), (6.93, 0.28), (7.01, 0.24), (7.09, 0.27), (7.17, 0.25),
    (7.25, 0.32), (7.33, 0.21), (7.41, 0.28), (7.49, 0.17), (6.57, 0.19), (6.73, 0.34),
    (6.89, 0.22), (7.05, 0.33), (7.21, 0.38), (7.37, 0.26), (6.65, 0.31),
    (7.52, 0.26), (7.54, 0.16), (7.56, 0.37), (7.58, 0.23), (7.60, 0.30), (7.62, 0.12),
    (7.64, 0.41), (7.66, 0.20), (7.68, 0.33), (7.70, 0.25), (7.72, 0.15), (7.74, 0.45),
    (7.76, 0.28), (7.78, 0.19), (7.80, 0.36), (7.82, 0.23), (7.84, 0.11), (7.86, 0.31),
    (7.88, 0.42), (7.90, 0.21), (7.92, 0.27), (7.94, 0.35), (7.96, 0.16), (7.98, 0.29),
    (8.00, 0.22), (8.03, 0.38), (8.05, 0.13), (8.07, 0.27), (8.09, 0.33), (8.11, 0.19),
    (8.13, 0.43), (8.15, 0.24), (8.17, 0.31), (8.19, 0.15), (8.21, 0.37), (8.23, 0.27),
    (8.25, 0.21), (8.27, 0.48), (8.29, 0.30), (8.31, 0.11), (8.33, 0.35), (8.35, 0.25),
    (8.37, 0.18), (8.39, 0.32), (8.41, 0.40), (8.43, 0.23), (8.45, 0.14), (8.47, 0.29),
    (8.49, 0.36), (8.51, 0.20), (8.55, 0.31), (8.59, 0.17),
]

# upper and lower fringe of the cloud
normal_dense_e = [
    (-1.45, 0.63), (-1.40, 0.87), (-1.32, 0.74), (-1.25, 0.95), (-1.17, 0.61), (-1.11, 0.83),
    (-1.03, 0.68), (-0.96, 0.91), (-0.88, 0.77), (-0.83, 0.63), (-0.78, 0.90), (-0.73, 0.57),
    (-0.63, 0.88), (-0.58, 0.66), (-0.53, 0.83), (-0.48, 0.73), (-0.38, 0.89), (-0.33, 0.61),
    (-0.28, 0.84), (-0.23, 0.70), (-0.13, 0.91), (-0.08, 0.79), (-0.03, 0.66), (0.03, 0.84),
    (0.08, 0.72), (0.13, 0.93), (0.18, 0.58), (0.23, 0.81), (0.28, 0.64), (0.33, 0.76),
    (0.38, 0.88), (0.43, 0.69), (0.48, 0.83), (0.53, 0.60), (0.58, 0.72), (0.63, 0.90),
    (0.68, 0.78), (0.73, 0.65), (0.78, 0.85), (0.83, 0.70), (0.88, 0.57), (0.93, 0.80),
    (0.98, 0.66), (1.04, 0.87), (1.10, 0.74), (1.16, 0.59), (1.22, 0.82), (1.28, 0.69),
    (1.34, 0.91), (1.40, 0.63), (1.46, 0.78), (1.52, 0.67), (1.58, 0.86), (1.64, 0.72),
    (1.70, 0.60), (1.76, 0.81), (1.82, 0.68), (1.88, 0.92), (1.94, 0.75), (2.00, 0.63),
    (2.07, 0.80), (2.14, 0.68), (2.21, 0.89), (2.28, 0.73), (2.35, 0.64), (2.42, 0.79),
    (2.49, 0.70), (2.56, 0.85), (2.63, 0.66), (2.70, 0.76), (2.77, 0.62), (2.84, 0.81),
    (2.91, 0.70), (2.98, 0.60),
    (0.05, 0.12), (0.25, 0.08), (0.45, 0.14), (0.65, 0.05), (0.85, 0.10), (1.05, 0.13),
    (1.25, 0.07), (1.45, 0.11), (1.65, 0.04), (1.85, 0.09), (2.05, 0.12), (2.25, 0.05),
    (2.45, 0.10), (2.65, 0.08), (2.85, 0.06), (-0.85, 0.06), (-0.55, 0.10), (-0.25, 0.05),
    (3.05, 0.72), (3.15, 0.66), (3.25, 0.77), (3.35, 0.62), (3.45, 0.70), (3.55, 0.64),
    (3.65, 0.75), (3.75, 0.61), (3.85, 0.72), (3.95, 0.66), (4.05, 0.62), (4.15, 0.71),
    (4.25, 0.60), (4.35, 0.66), (4.45, 0.58), (4.55, 0.63), (4.65, 0.57), (4.75, 0.62),
    (4.85, 0.56), (4.95, 0.60), (5.05, 0.58), (5.15, 0.54), (5.25, 0.60), (5.35, 0.53),
    (5.45, 0.57), (5.55, 0.51), (5.65, 0.55), (5.75, 0.52), (5.85, 0.49), (5.95, 0.54),
    (6.05, 0.51), (6.15, 0.48), (6.25, 0.53), (6.35, 0.47), (6.45, 0.50), (6.55, 0.46),
    (6.65, 0.49), (6.75, 0.45), (6.85, 0.52), (6.95, 0.47),
]

# sparse points, right tail
normal_right = [
    (9.90, 0.681), (9.67, 0.652), (9.80, 0.646), (10.70, 0.639), (11.67, 0.614), (12.69, 0.572),
    (9.09, 0.675), (9.09, 0.585), (9.08, 0.555), (9.51, 0.514), (9.84, 0.509), (9.26, 0.489),
    (9.40, 0.491), (9.85, 0.485), (9.30, 0.469), (9.48, 0.467), (9.40, 0.464), (9.10, 0.459),
    (10.18, 0.483), (10.18, 0.469), (10.29, 0.463), (9.98, 0.455), (9.99, 0.449), (9.70, 0.449),
    (9.53, 0.447), (9.24, 0.445), (9.32, 0.441), (9.46, 0.446), (10.46, 0.447), (10.67, 0.452),
    (10.73, 0.445), (10.30, 0.442), (11.10, 0.434), (11.18, 0.418), (12.37, 0.424), (12.38, 0.397),
    (13.00, 0.438), (12.19, 0.400), (9.79, 0.423), (9.92, 0.423), (9.61, 0.417), (9.41, 0.424),
    (9.49, 0.400), (9.42, 0.405), (9.22, 0.420), (10.14, 0.415), (10.10, 0.403), (10.17, 0.403),
    (10.70, 0.409), (10.67, 0.406), (11.00, 0.386), (10.96, 0.375), (10.62, 0.377), (9.72, 0.388),
    (9.77, 0.385), (9.85, 0.389), (9.93, 0.392), (9.95, 0.379), (9.90, 0.373), (9.98, 0.380),
    (10.15, 0.371), (10.24, 0.365), (10.28, 0.365), (10.41, 0.367), (10.40, 0.360), (9.08, 0.377),
    (9.11, 0.371), (9.21, 0.365), (9.57, 0.360), (9.63, 0.354), (9.40, 0.349), (9.47, 0.351),
    (9.16, 0.352), (9.83, 0.349), (9.92, 0.339), (10.07, 0.339), (11.34, 0.341), (11.35, 0.335),
    (11.62, 0.342), (13.53, 0.374), (14.09, 0.334), (9.10, 0.335), (9.18, 0.333), (9.40, 0.335),
    (9.48, 0.326), (9.57, 0.331), (9.68, 0.330), (9.73, 0.326), (10.00, 0.326), (10.09, 0.323),
    (10.47, 0.328), (10.49, 0.315), (10.94, 0.332), (11.20, 0.319), (11.11, 0.308), (11.40, 0.319),
    (10.56, 0.306), (10.84, 0.299), (11.24, 0.276), (11.41, 0.274), (9.14, 0.304), (9.31, 0.308),
    (9.24, 0.291), (9.31, 0.291), (9.40, 0.290), (9.49, 0.290), (9.56, 0.296), (9.60, 0.288),
    (9.71, 0.308), (9.78, 0.291), (9.84, 0.280), (9.79, 0.314), (9.14, 0.276), (9.15, 0.272),
    (10.35, 0.280), (10.45, 0.280), (10.53, 0.286), (10.23, 0.256), (9.90, 0.256), (9.70, 0.259),
    (9.21, 0.247), (9.44, 0.248), (12.63, 0.290), (13.27, 0.308), (13.29, 0.297), (11.92, 0.249),
    (12.06, 0.226), (12.12, 0.223), (10.56, 0.237), (10.73, 0.222), (11.09, 0.234), (11.18, 0.218),
    (10.80, 0.196), (11.04, 0.191), (9.97, 0.235), (10.06, 0.223), (9.75, 0.223), (9.73, 0.217),
    (9.55, 0.232), (9.23, 0.218), (9.09, 0.214), (9.38, 0.209), (9.36, 0.189), (9.11, 0.198),
    (9.12, 0.183), (9.79, 0.194), (9.93, 0.187), (9.97, 0.190), (10.07, 0.173), (10.15, 0.177),
    (10.40, 0.181), (9.63, 0.177), (9.54, 0.162), (9.64, 0.162), (9.25, 0.173), (9.19, 0.161),
    (9.33, 0.178), (11.12, 0.140), (9.90, 0.135), (9.86, 0.133), (9.80, 0.123), (9.63, 0.127),
    (9.59, 0.135), (9.51, 0.138), (9.45, 0.138), (9.32, 0.135), (9.25, 0.135), (9.68, 0.141),
    (9.15, 0.117), (9.16, 0.105), (9.36, 0.114), (9.43, 0.108), (9.40, 0.093), (9.50, 0.091),
    (10.09, 0.111), (10.07, 0.094), (9.88, 0.114), (9.29, 0.069), (9.12, 0.041), (9.59, 0.061),
    (9.63, 0.050), (9.95, 0.061), (9.98, 0.044), (10.40, 0.060), (10.44, 0.066), (10.72, 0.078),
    (11.72, 0.082), (13.10, 0.047),
]

outlier_pts = [
    (-0.49, 1.850), (-0.66, 1.727), (1.10, 1.746), (-0.08, 1.681), (0.09, 1.664), (0.09, 1.656),
    (0.39, 1.691), (2.12, 1.691), (-0.62, 1.595), (-0.35, 1.582), (-0.10, 1.524), (0.36, 1.542),
    (-0.25, 1.488), (-0.01, 1.461), (0.60, 1.489), (1.02, 1.508), (1.51, 1.483), (0.53, 1.386),
    (2.67, 1.415), (1.77, 1.375), (1.89, 1.389), (2.46, 1.390), (0.88, 1.318), (0.97, 1.315),
    (1.82, 1.327), (1.82, 1.315), (2.12, 1.312), (2.67, 1.290), (2.86, 1.300), (1.07, 1.265),
    (1.33, 1.244), (1.38, 1.251), (1.82, 1.262), (2.31, 1.265), (2.45, 1.267), (2.43, 1.245),
    (2.72, 1.244), (2.73, 1.224), (3.16, 1.255), (3.11, 1.239), (1.86, 1.189), (2.36, 1.211),
    (2.23, 1.197), (2.84, 1.175), (3.14, 1.176), (3.29, 1.152), (2.23, 1.157), (2.12, 1.119),
    (2.17, 1.127), (2.31, 1.101), (2.43, 1.097), (3.06, 1.114), (3.18, 1.101), (2.42, 1.066),
    (2.45, 1.041), (2.53, 1.026), (3.11, 1.063), (3.12, 1.027), (2.99, 1.010), (3.14, 0.957),
    (4.61, 1.355), (4.43, 1.281), (5.04, 1.265), (5.11, 1.186), (5.67, 1.192), (6.15, 1.185),
    (6.67, 1.175), (6.77, 1.183), (7.10, 1.165), (3.31, 1.152), (4.10, 1.168), (4.11, 1.153),
    (3.36, 1.074), (3.63, 1.085), (3.68, 1.088), (3.78, 1.059), (5.65, 1.043), (5.60, 1.011),
    (3.98, 0.993), (4.80, 0.983), (4.80, 0.965), (3.65, 0.949), (3.87, 0.956), (3.87, 0.944),
    (4.06, 0.959), (4.21, 0.942), (5.20, 0.928), (7.19, 0.926),
    (3.67, 0.903), (3.98, 0.923), (4.58, 0.916), (4.75, 0.913), (5.17, 0.920), (5.17, 0.910),
    (7.50, 0.916), (3.77, 0.874), (3.91, 0.849), (4.10, 0.849), (4.10, 0.843), (4.27, 0.856),
    (4.35, 0.853), (4.42, 0.873), (4.54, 0.864), (4.63, 0.860), (4.72, 0.882), (4.85, 0.885),
    (4.95, 0.891), (4.20, 0.832), (4.28, 0.826), (4.37, 0.838), (4.60, 0.817), (4.78, 0.817),
    (4.75, 0.834), (5.50, 0.861), (5.62, 0.824), (4.95, 0.781), (5.11, 0.753), (5.48, 0.731),
    (5.92, 0.792), (5.97, 0.745), (5.85, 0.707), (6.36, 0.789), (6.50, 0.769), (6.28, 0.728),
    (6.36, 0.721), (6.31, 0.701), (6.67, 0.808), (6.78, 0.815), (6.74, 0.766), (6.80, 0.753),
    (6.70, 0.702), (6.87, 0.703), (7.07, 0.784), (7.16, 0.753), (7.67, 0.861), (8.12, 0.794),
    (8.11, 0.740), (7.66, 0.696), (7.77, 0.686), (9.06, 0.762),
    (-1.23, 0.044), (-0.96, 0.024), (-0.77, 0.047), (-0.73, 0.037), (-0.61, 0.042), (-0.35, 0.028),
    (-0.07, 0.012), (0.21, 0.015), (0.34, 0.034), (1.76, 0.024), (1.85, 0.020), (1.99, 0.002),
    (2.60, 0.017), (2.97, 0.010), (3.05, 0.020), (3.14, 0.010), (3.22, 0.015), (3.41, 0.020),
    (3.63, 0.023), (3.64, 0.010), (3.74, 0.020), (4.25, 0.015), (4.54, 0.020), (4.63, 0.020),
    (4.66, 0.019), (4.75, 0.006), (4.78, 0.010), (4.83, 0.010), (4.90, 0.020), (5.06, 0.010),
    (5.28, 0.001), (5.29, 0.010), (5.38, 0.015), (5.48, 0.001), (5.55, 0.003), (5.61, 0.017),
    (5.88, 0.015), (5.89, 0.006), (5.92, 0.000), (6.07, 0.006), (6.16, 0.017), (6.36, 0.010),
    (6.46, 0.017), (6.55, 0.015), (6.71, 0.015), (6.76, 0.017), (6.78, 0.001), (7.02, 0.010),
]

# smooth trend drawn through the cloud
trend_x = [-1.83, -1.22, -0.50, 0.14, 1.00, 1.84, 2.60, 3.31, 3.87, 4.50, 5.00, 5.85,
           6.81, 7.82, 8.50, 9.07, 10.76, 12.46, 14.10]
trend_y = [0.863, 0.798, 0.735, 0.670, 0.600, 0.531, 0.475, 0.429, 0.402, 0.378, 0.361, 0.333,
           0.322, 0.325, 0.330, 0.335, 0.354, 0.381, 0.403]

sparse_pts = normal_top_left + normal_left_edge + normal_right
cloud_pts = (normal_m1_0 + normal_0_1 + normal_1_2 + normal_2_3 + normal_3_4 + normal_4_5
             + normal_5_6 + normal_6_7 + normal_7_9 + normal_dense_a + normal_dense_b
             + normal_dense_c + normal_dense_d + normal_dense_e)

fig = plt.figure(figsize=(12, 9), dpi=100)
ax = fig.add_axes([123 / 1200, 154 / 900, 1014 / 1200, 624 / 900])

ax.plot([p[0] for p in sparse_pts], [p[1] for p in sparse_pts], 's', color='black',
        ms=2.2, mew=0, linestyle='none')
ax.plot([p[0] for p in cloud_pts], [p[1] for p in cloud_pts], 's', color='black',
        ms=2.9, mew=0, linestyle='none')
ax.plot([p[0] for p in outlier_pts], [p[1] for p in outlier_pts], 's', color='red',
        ms=2.3, mew=0, linestyle='none')
ax.plot(trend_x, trend_y, color='blue', lw=1.1)

ax.set_xlim(-2.46, 14.73)
ax.set_ylim(-0.074, 1.926)
ax.set_xticks([0, 5, 10])
ax.set_xticklabels(['0', '5', '10'])
ax.set_yticks([0.0, 0.5, 1.0, 1.5])
ax.set_yticklabels(['0.0', '0.5', '1.0', '1.5'], rotation=90, va='center')

for s in ax.spines.values():
    s.set_linewidth(1.1)
    s.set_color('#222222')
ax.tick_params(direction='out', length=10.8, width=1.1, color='#222222', labelsize=17.5)
ax.tick_params(axis='x', pad=15)
ax.tick_params(axis='y', pad=11)

ax.set_xlabel('Average log-expression', fontsize=17.5)
ax.set_ylabel('sqrt(sigma)', fontsize=17.5)
ax.xaxis.label.set_va('center')
ax.yaxis.label.set_va('center')
ax.xaxis.set_label_coords(0.5, (746 - 853) / 624)
ax.yaxis.set_label_coords((30 - 123) / 1014, 0.5)

# legend box in the top right corner, drawn like base R graphics
tf = fig.transFigure
fig.add_artist(Rectangle((999 / 1200, (900 - 213) / 900), 138 / 1200, 91 / 900,
                         transform=tf, facecolor='white', edgecolor='#222222', lw=1.1))
for label, col, ypix in [('Normal', 'black', 153), ('Outlier', 'red', 183)]:
    fig.add_artist(Line2D([1022 / 1200], [(900 - ypix) / 900], transform=tf,
                          marker='o', color=col, ms=7.5, linestyle='none'))
    fig.text(1045 / 1200, (900 - ypix) / 900, label, fontsize=17.5, va='center', ha='left')

fig.savefig('out.png', dpi=100)
